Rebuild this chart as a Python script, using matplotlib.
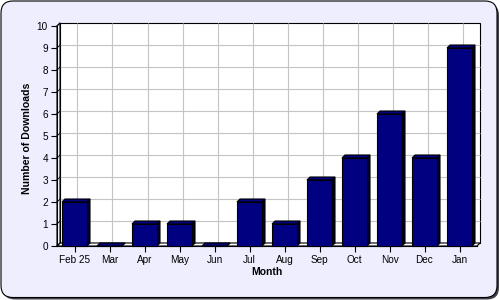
import matplotlib
matplotlib.use('Agg')
import matplotlib.pyplot as plt
from matplotlib.patches import Polygon, FancyBboxPatch, Rectangle
import numpy as np

months = ['Feb 25', 'Mar', 'Apr', 'May', 'Jun', 'Jul', 'Aug', 'Sep', 'Oct', 'Nov', 'Dec', 'Jan']
downloads = [2, 0, 1, 1, 0, 2, 1, 3, 4, 6, 4, 9]
yticks = list(range(0, 11))

plt.rcParams['font.family'] = ['Liberation Sans', 'DejaVu Sans']

LW = 0.8  # ~1 px

fig = plt.figure(figsize=(5, 3), dpi=100)
fig.patch.set_facecolor('white')

# outer rounded frame with shadow
shadow = FancyBboxPatch((0.03, 0.005), 4.96, 2.96,
                        boxstyle='round,pad=0,rounding_size=0.12',
                        transform=fig.dpi_scale_trans, fc='#404048', ec='none', zorder=-2)
frame = FancyBboxPatch((0.01, 0.025), 4.96, 2.965,
                       boxstyle='round,pad=0,rounding_size=0.12',
                       transform=fig.dpi_scale_trans, fc='#EEEEFF', ec='black', lw=LW, zorder=-1)
fig.add_artist(shadow)
fig.add_artist(frame)

ax = fig.add_axes([57 / 500, 54 / 300, 420 / 500, 220 / 300])
ax.set_zorder(1)
ax.set_facecolor('none')
n = len(months)
xmin, xmax = -0.5, n - 0.5
ymin, ymax = 0, 10
ax.set_xlim(xmin, xmax)
ax.set_ylim(ymin, ymax)

# depth offset (3 px right, 3 px up) in data units
inv = ax.transData.inverted()
o = ax.transData.transform((0, 0))
p = inv.transform(o + np.array([3.0, 3.0]))
dx, dy = p[0], p[1]

# back wall
ax.add_patch(Rectangle((xmin + dx, ymin + dy), xmax - xmin, ymax - ymin,
                       fc='white', ec='black', lw=LW, clip_on=False, zorder=0.5))
# grid on back wall
for y in yticks[1:-1]:
    ax.plot([xmin + dx, xmax + dx], [y + dy, y + dy], color='#C4C4C4', lw=LW,
            clip_on=False, zorder=0.6, solid_capstyle='butt')
for i in range(n):
    ax.plot([i + dx, i + dx], [ymin + dy, ymax + dy], color='#C4C4C4', lw=LW,
            clip_on=False, zorder=0.6, solid_capstyle='butt')
# floor and left wall
ax.add_patch(Polygon([(xmin, ymin), (xmax, ymin), (xmax + dx, ymin + dy), (xmin + dx, ymin + dy)],
                     closed=True, fc='white', ec='black', lw=LW, clip_on=False, zorder=0.7))
ax.add_patch(Polygon([(xmin, ymin), (xmin, ymax), (xmin + dx, ymax + dy), (xmin + dx, ymin + dy)],
                     closed=True, fc='white', ec='black', lw=LW, clip_on=False, zorder=0.7))
for y in yticks:
    ax.plot([xmin, xmin + dx], [y, y + dy], color='black', lw=LW * 0.8, clip_on=False, zorder=0.8)

# 3D bars
w = 25 / 35
x = np.arange(n)
ax.bar(x, downloads, width=w, color='#000080', edgecolor='black', lw=LW, zorder=3, clip_on=False)
for i, v in enumerate(downloads):
    l, r = i - w / 2, i + w / 2
    ax.add_patch(Polygon([(l, v), (r, v), (r + dx, v + dy), (l + dx, v + dy)], closed=True,
                         fc='#000080', ec='black', lw=LW, zorder=2.9, clip_on=False))
    ax.add_patch(Polygon([(r, 0), (r, v), (r + dx, v + dy), (r + dx, dy)], closed=True,
                         fc='#000030', ec='black', lw=LW, zorder=2.9, clip_on=False))

for s in ['top', 'right']:
    ax.spines[s].set_visible(False)
for s in ['left', 'bottom']:
    ax.spines[s].set_color('black')
    ax.spines[s].set_linewidth(LW)
    ax.spines[s].set_zorder(1)

ax.set_xticks(x, months)
ax.set_yticks(yticks)
ax.tick_params(axis='both', direction='out', length=4, width=LW, labelsize=7.2, colors='black', pad=2.5)

fig.text(27 / 500, 1 - 138 / 300, 'Number of Downloads', rotation=90, ha='center', va='center',
         fontsize=7.6, fontweight='bold')
fig.text(267 / 500, 1 - 272 / 300, 'Month', ha='center', va='center', fontsize=7.5, fontweight='bold')

fig.savefig('out.png', dpi=100)
